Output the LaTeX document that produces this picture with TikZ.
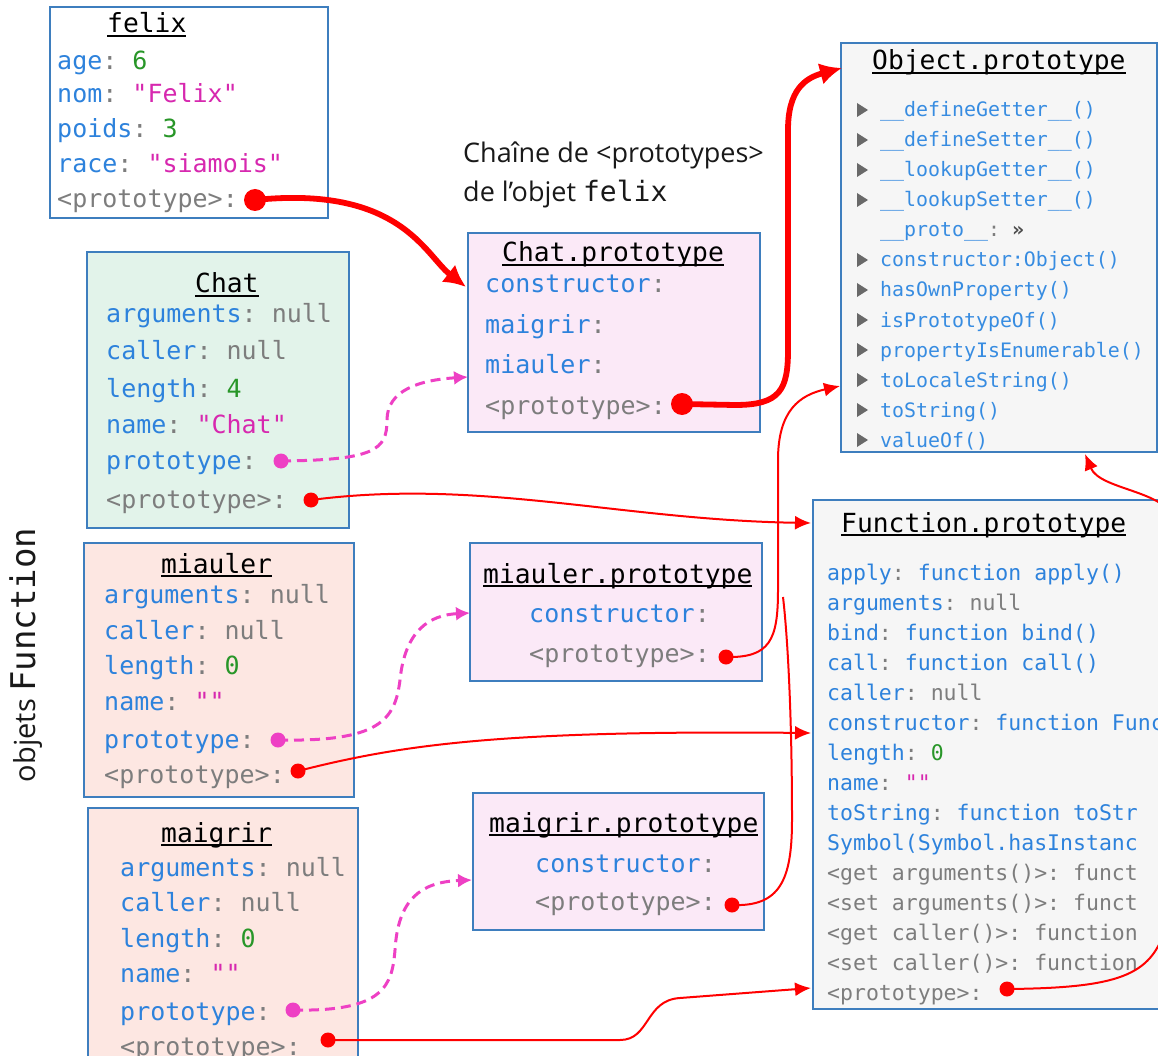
\documentclass[tikz,border=0pt]{standalone}
\usepackage{fontspec}
\setmainfont{Open Sans}
\setmonofont{DejaVu Sans Mono}
\usetikzlibrary{arrows.meta}
\definecolor{boxblue}{RGB}{62,126,190}
\definecolor{keyblue}{RGB}{45,130,220}
\definecolor{objblue}{RGB}{55,140,225}
\definecolor{numgreen}{RGB}{40,150,40}
\definecolor{strmag}{RGB}{215,40,175}
\definecolor{greyt}{RGB}{125,125,125}
\definecolor{trigrey}{RGB}{105,105,105}
\definecolor{chatfill}{RGB}{226,243,234}
\definecolor{funfill}{RGB}{253,231,226}
\definecolor{protofill}{RGB}{251,233,247}
\definecolor{objfill}{RGB}{246,246,246}
\definecolor{pinkarrow}{RGB}{238,64,196}
\definecolor{redarrow}{RGB}{255,0,0}
\definecolor{labeltext}{RGB}{25,25,25}
\newcommand\keyc[1]{\textcolor{keyblue}{#1}}
\newcommand\objc[1]{\textcolor{objblue}{#1}}
\newcommand\colc{\textcolor{greyt}{:}}
\newcommand\numc[1]{\textcolor{numgreen}{#1}}
\newcommand\strc[1]{\textcolor{strmag}{#1}}
\newcommand\grc[1]{\textcolor{greyt}{#1}}
\newcommand\myul[1]{\setbox0\hbox{#1}\rlap{\rule[-4pt]{\wd0}{1.6pt}}\box0}
\newcommand\fsA{\ttfamily\fontsize{25}{30}\selectfont}
\newcommand\fsT{\ttfamily\fontsize{26.3}{30}\selectfont}
\newcommand\fsO{\ttfamily\fontsize{19.9}{24}\selectfont}
\newcommand\fsF{\ttfamily\fontsize{21.5}{26}\selectfont}
\tikzset{
  objbox/.style={draw=boxblue, line width=1.8pt, anchor=north west, inner sep=0pt, outer sep=0pt},
  row/.style={anchor=base west, inner sep=0pt, font=\fsA},
  ttl/.style={anchor=base west, inner sep=0pt, font=\fsT},
  orow/.style={row, font=\fsO},
  frow/.style={row, font=\fsF},
  bigdot/.style={circle, fill=redarrow, inner sep=0pt, minimum size=22pt},
  reddot/.style={circle, fill=redarrow, inner sep=0pt, minimum size=15pt},
  pinkdot/.style={circle, fill=pinkarrow, inner sep=0pt, minimum size=15pt},
  thickarrow/.style={draw=redarrow, line width=5.8pt, -{Latex[length=22pt,width=22pt]}},
  thinarrow/.style={draw=redarrow, line width=2pt, -{Latex[length=16pt,width=14pt]}},
  thinline/.style={draw=redarrow, line width=2pt},
  pinkconn/.style={draw=pinkarrow, line width=3pt, dash pattern=on 10pt off 6pt, -{Latex[length=14pt,width=14pt]}},
  trimark/.style={fill=trigrey}
}
\begin{document}
\begin{tikzpicture}[x=1pt,y=-1pt]
\useasboundingbox (0,0) rectangle (1158,1056);
\fill[white] (0,0) rectangle (1158,1056);
\clip (0,0) rectangle (1158,1056);

% ---------- boxes ----------
\node[objbox, fill=white, minimum width=278pt, minimum height=211pt] (felix) at (50,7) {};
\node[objbox, fill=chatfill, minimum width=262pt, minimum height=276pt] (chat) at (87,252) {};
\node[objbox, fill=funfill, minimum width=270pt, minimum height=254pt] (miauler) at (84,543) {};
\node[objbox, fill=funfill, minimum width=270pt, minimum height=270pt] (maigrir) at (88,808) {};
\node[objbox, fill=protofill, minimum width=292pt, minimum height=199pt] (chatP) at (468,233) {};
\node[objbox, fill=protofill, minimum width=292pt, minimum height=138pt] (miaP) at (470,543) {};
\node[objbox, fill=protofill, minimum width=291pt, minimum height=137pt] (maiP) at (473,793) {};
\node[objbox, fill=objfill, minimum width=316pt, minimum height=409pt] (objP) at (841,43) {};
\node[objbox, fill=objfill, minimum width=360pt, minimum height=509pt] (funP) at (813,500) {};

% ---------- felix ----------
\node[ttl] (felixT) at (107,33) {\myul{felix}};
\node[row] (felix1) at (57,70) {\keyc{age}\colc{} \numc{6}};
\node[row] (felix2) at (57,103) {\keyc{nom}\colc{} \strc{"Felix"}};
\node[row] (felix3) at (57,138) {\keyc{poids}\colc{} \numc{3}};
\node[row] (felix4) at (57,173) {\keyc{race}\colc{} \strc{"siamois"}};
\node[row] (felix5) at (57,208) {\grc{<prototype>:}};

% ---------- Chat ----------
\node[ttl] (chatT) at (195,293) {\myul{Chat}};
\node[row] (chat1) at (106,323) {\keyc{arguments}\colc{} \grc{null}};
\node[row] (chat2) at (106,359) {\keyc{caller}\colc{} \grc{null}};
\node[row] (chat3) at (106,397) {\keyc{length}\colc{} \numc{4}};
\node[row] (chat4) at (106,433) {\keyc{name}\colc{} \strc{"Chat"}};
\node[row] (chat5) at (106,469) {\keyc{prototype}\colc};
\node[row] (chat6) at (106,508) {\grc{<prototype>:}};

% ---------- miauler ----------
\node[ttl] (miaT) at (161,573) {\myul{miauler}};
\node[row] (mia1) at (104,603) {\keyc{arguments}\colc{} \grc{null}};
\node[row] (mia2) at (104,639) {\keyc{caller}\colc{} \grc{null}};
\node[row] (mia3) at (104,674) {\keyc{length}\colc{} \numc{0}};
\node[row] (mia4) at (104,710) {\keyc{name}\colc{} \strc{""}};
\node[row] (mia5) at (104,748) {\keyc{prototype}\colc};
\node[row] (mia6) at (104,783) {\grc{<prototype>:}};

% ---------- maigrir ----------
\node[ttl] (maiT) at (161,842) {\myul{maigrir}};
\node[row] (mai1) at (120,876) {\keyc{arguments}\colc{} \grc{null}};
\node[row] (mai2) at (120,911) {\keyc{caller}\colc{} \grc{null}};
\node[row] (mai3) at (120,947) {\keyc{length}\colc{} \numc{0}};
\node[row] (mai4) at (120,982) {\keyc{name}\colc{} \strc{""}};
\node[row] (mai5) at (120,1020) {\keyc{prototype}\colc};
\node[row] (mai6) at (120,1055) {\grc{<prototype>:}};

% ---------- Chat.prototype ----------
\node[ttl] (chatPT) at (502,262) {\myul{Chat.prototype}};
\node[row] (chatP1) at (485,293) {\keyc{constructor}\colc};
\node[row] (chatP2) at (485,333) {\keyc{maigrir}\colc};
\node[row] (chatP3) at (485,373) {\keyc{miauler}\colc};
\node[row] (chatP4) at (485,414) {\grc{<prototype>:}};

% ---------- miauler.prototype ----------
\node[ttl] (miaPT) at (483,583) {\myul{miauler.prototype}};
\node[row] (miaP1) at (529,622) {\keyc{constructor}\colc};
\node[row] (miaP2) at (529,662) {\grc{<prototype>:}};

% ---------- maigrir.prototype ----------
\node[ttl] (maiPT) at (489,832) {\myul{maigrir.prototype}};
\node[row] (maiP1) at (535,872) {\keyc{constructor}\colc};
\node[row] (maiP2) at (535,910) {\grc{<prototype>:}};

% ---------- Object.prototype ----------
\node[ttl] (objPT) at (872,70) {\myul{Object.prototype}};
\foreach \i/\txt/\tri in {0/{\objc{\_\_defineGetter\_\_()}}/1,
  1/{\objc{\_\_defineSetter\_\_()}}/1,
  2/{\objc{\_\_lookupGetter\_\_()}}/1,
  3/{\objc{\_\_lookupSetter\_\_()}}/1,
  4/{\objc{\_\_proto\_\_}\colc{} \textcolor{black!70}{\bfseries»}}/0,
  5/{\objc{constructor:Object()}}/1,
  6/{\objc{hasOwnProperty()}}/1,
  7/{\objc{isPrototypeOf()}}/1,
  8/{\objc{propertyIsEnumerable()}}/1,
  9/{\objc{toLocaleString()}}/1,
  10/{\objc{toString()}}/1,
  11/{\objc{valueOf()}}/1}{
  \node[orow] (obj\i) at (880,117+30*\i) {\txt};
  \ifnum\tri=1
    \fill[trimark] (857,110+30*\i-7) -- (868,110+30*\i) -- (857,110+30*\i+7) -- cycle;
  \fi
}

% ---------- Function.prototype ----------
\node[ttl] (funPT) at (841,532) {\myul{Function.prototype}};
\node[frow] (fun0) at (827,580) {\keyc{apply}\colc{} \keyc{function apply()}};
\node[frow] (fun1) at (827,610) {\keyc{arguments}\colc{} \grc{null}};
\node[frow] (fun2) at (827,640) {\keyc{bind}\colc{} \keyc{function bind()}};
\node[frow] (fun3) at (827,670) {\keyc{call}\colc{} \keyc{function call()}};
\node[frow] (fun4) at (827,700) {\keyc{caller}\colc{} \grc{null}};
\node[frow] (fun5) at (827,730) {\keyc{constructor}\colc{} \keyc{function Func}};
\node[frow] (fun6) at (827,760) {\keyc{length}\colc{} \numc{0}};
\node[frow] (fun7) at (827,790) {\keyc{name}\colc{} \strc{""}};
\node[frow] (fun8) at (827,820) {\keyc{toString}\colc{} \keyc{function toStr}};
\node[frow] (fun9) at (827,850) {\keyc{Symbol(Symbol.hasInstanc}};
\node[frow] (fun10) at (827,880) {\grc{<get arguments()>: funct}};
\node[frow] (fun11) at (827,910) {\grc{<set arguments()>: funct}};
\node[frow] (fun12) at (827,940) {\grc{<get caller()>: function}};
\node[frow] (fun13) at (827,970) {\grc{<set caller()>: function}};
\node[frow] (fun14) at (827,1000) {\grc{<prototype>:}};

% ---------- labels ----------
\node[anchor=base west, inner sep=0pt, align=left, text=labeltext, font=\fontsize{27}{39}\selectfont] (chainT) at (463,202)
  {Chaîne de <prototypes>\\de l'objet {\ttfamily\fontsize{28}{39}\selectfont felix}};
\node[anchor=base, inner sep=0pt, rotate=90, text=labeltext, font=\fontsize{29}{36}\selectfont] (sideT) at (35,655)
  {objets {\ttfamily\fontsize{34}{36}\selectfont Function}};

% ---------- target coordinates ----------
\coordinate (tChatP) at (466,287);
\coordinate (tObjTop) at (842,68);
\coordinate (tChatPm) at (468,377);
\coordinate (tFunTop) at (811,523);
\coordinate (tMiaP) at (470,613);
\coordinate (tFunMid) at (811,733);
\coordinate (tMaiP) at (472,880);
\coordinate (tFunBot) at (811,988);
\coordinate (tObjLeft) at (840,386);
\coordinate (freeEnd) at (783,597);
\coordinate (tObjBot) at (1085,454);

% ---------- dots ----------
\node[bigdot] (felixD) at (255,200) {};
\node[bigdot] (chatPD) at (682,404) {};
\node[pinkdot] (chatPk) at (281,461) {};
\node[reddot] (chatD) at (311,500) {};
\node[pinkdot] (miaPk) at (278,740) {};
\node[reddot] (miaD) at (298,771) {};
\node[pinkdot] (maiPk) at (293,1010) {};
\node[reddot] (maiD) at (328,1040) {};
\node[reddot] (miaPD) at (726,657) {};
\node[reddot] (maiPD) at (732,905) {};
\node[reddot] (funPD) at (1007,989) {};

% ---------- connectors ----------
\draw[thickarrow] (felixD.center) .. controls (400,185) and (425,255) .. (tChatP);
\draw[thickarrow] (chatPD.center) -- (735,405) .. controls (780,405) and (788,390) .. (788,350)
   -- (788,130) .. controls (788,90) and (805,78) .. (tObjTop);
\draw[pinkconn] (chatPk.center) .. controls (375,460) and (387,450) .. (387,420)
   .. controls (387,390) and (420,380) .. (tChatPm);
\draw[thinarrow] (chatD.center) .. controls (480,478) and (620,520) .. (tFunTop);
\draw[pinkconn] (miaPk.center) .. controls (380,742) and (395,720) .. (400,680)
   .. controls (405,630) and (430,615) .. (tMiaP);
\draw[thinarrow] (miaD.center) .. controls (400,745) and (500,730) .. (tFunMid);
\draw[pinkconn] (maiPk.center) .. controls (385,1012) and (392,985) .. (395,950)
   .. controls (398,900) and (420,882) .. (tMaiP);
\draw[thinarrow] (maiD.center) -- (620,1040) .. controls (650,1040) and (645,1000) .. (680,998) -- (tFunBot);
\draw[thinarrow] (miaPD.center) .. controls (770,658) and (778,640) .. (778,590)
   -- (778,460) .. controls (778,410) and (800,395) .. (tObjLeft);
\draw[thinline] (maiPD.center) .. controls (780,907) and (792,880) .. (792,820)
   .. controls (792,720) and (788,640) .. (freeEnd);
\draw[thinarrow] (funPD.center) .. controls (1120,988) and (1150,975) .. (1165,930)
   -- (1175,520) .. controls (1165,490) and (1100,490) .. (tObjBot);
\end{tikzpicture}
\end{document}
